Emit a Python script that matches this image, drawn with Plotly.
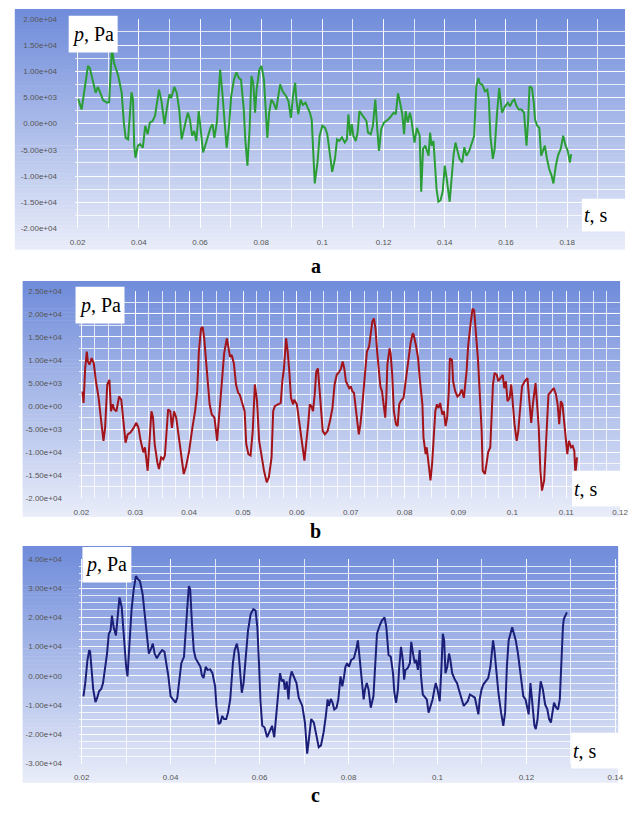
import plotly.graph_objects as go

# ---------------- data ----------------
t_a = [0.0202, 0.0213, 0.0234, 0.0240, 0.0259, 0.0266, 0.0274, 0.0283, 0.0296, 0.0303,
       0.0312, 0.0319, 0.0333, 0.0344, 0.0351, 0.0357, 0.0365, 0.0376, 0.0381, 0.0385,
       0.0389, 0.0397, 0.0404, 0.0413, 0.0421, 0.0429, 0.0436, 0.0445, 0.0453, 0.0466,
       0.0474, 0.0484, 0.0493, 0.0500, 0.0506, 0.0516, 0.0524, 0.0532, 0.0540, 0.0549,
       0.0560, 0.0567, 0.0574, 0.0581, 0.0588, 0.0596, 0.0602, 0.0610, 0.0617, 0.0626,
       0.0634, 0.0641, 0.0647, 0.0655, 0.0666, 0.0673, 0.0687, 0.0695, 0.0702, 0.0711,
       0.0719, 0.0727, 0.0734, 0.0743, 0.0748, 0.0755, 0.0762, 0.0768, 0.0774, 0.0780,
       0.0785, 0.0794, 0.0801, 0.0809, 0.0815, 0.0820, 0.0826, 0.0833, 0.0840, 0.0849,
       0.0862, 0.0870, 0.0881, 0.0889, 0.0897, 0.0904, 0.0911, 0.0915, 0.0921, 0.0929,
       0.0936, 0.0945, 0.0952, 0.0959, 0.0965, 0.0970, 0.0975, 0.0984, 0.0991, 0.1000,
       0.1009, 0.1016, 0.1023, 0.1032, 0.1041, 0.1048, 0.1055, 0.1064, 0.1073, 0.1080,
       0.1085, 0.1091, 0.1096, 0.1101, 0.1109, 0.1115, 0.1121, 0.1128, 0.1135, 0.1144,
       0.1149, 0.1158, 0.1165, 0.1173, 0.1179, 0.1185, 0.1192, 0.1201, 0.1208, 0.1215,
       0.1224, 0.1233, 0.1240, 0.1247, 0.1254, 0.1261, 0.1267, 0.1272, 0.1279, 0.1286,
       0.1290, 0.1297, 0.1301, 0.1309, 0.1318, 0.1323, 0.1329, 0.1336, 0.1341, 0.1347,
       0.1352, 0.1357, 0.1363, 0.1368, 0.1373, 0.1379, 0.1386, 0.1393, 0.1400, 0.1405,
       0.1411, 0.1416, 0.1423, 0.1429, 0.1435, 0.1443, 0.1448, 0.1457, 0.1464, 0.1471,
       0.1480, 0.1489, 0.1496, 0.1503, 0.1510, 0.1514, 0.1523, 0.1531, 0.1539, 0.1544,
       0.1549, 0.1557, 0.1563, 0.1571, 0.1578, 0.1587, 0.1592, 0.1597, 0.1606, 0.1613,
       0.1621, 0.1627, 0.1635, 0.1642, 0.1651, 0.1659, 0.1667, 0.1672, 0.1677, 0.1685,
       0.1691, 0.1695, 0.1702, 0.1709, 0.1715, 0.1723, 0.1727, 0.1734, 0.1741, 0.1749,
       0.1755, 0.1763, 0.1770, 0.1779, 0.1787, 0.1795, 0.1802, 0.1809, 0.1813]
p_a = [4700, 2700, 11000, 10600, 5900, 7000, 5900, 4500, 4000, 4100,
       14400, 11600, 9100, 5900, 200, -2700, -3000, 6000, 4600, -4200,
       -6500, -4200, -3900, -4600, -400, -2000, 200, 500, 1500, 6500,
       4300, -100, 3400, 5600, 4900, 7000, 5900, 2700, -3000, -400,
       2100, 800, -2300, -1400, -3300, 2400, -800, -5500, -4200, -2300,
       -800, -100, -2700, 200, 10300, 5900, -4600, -400, 5300, 8400,
       9800, 8700, 8400, 2700, -3000, -8000, -1100, 9100, 7800, 2100,
       6500, 10300, 11000, 8400, 2100, -2700, 2100, 4600, 4000, 2700,
       7500, 6200, 5300, 4300, 1100, 5300, 7800, 4600, 1800, 4600,
       3600, 4000, 3000, 2100, 800, -4800, -11400, -7400, -2300, -400,
       -800, -2000, -4800, -9200, -6700, -3000, -3300, -2600, -3600, -3000,
       1800, -2300, -100, -2300, -3300, -1700, 2400, 1800, 1100, 500,
       -1700, -2000, -400, 4600, -800, -5200, -1100, 200, 500, 800,
       1400, 2100, 1800, 5800, 4000, 1800, -2000, 2400, 200, 2100,
       1100, -1700, -3600, -800, -2300, -13000, -4800, -4200, -5200, -6100,
       -1700, -4200, -3300, -8000, -12400, -14900, -14600, -13000, -8000, -9900,
       -12400, -14900, -9900, -5800, -3600, -5500, -6700, -7400, -4500, -6100,
       -5200, -3600, -2300, 7100, 8700, 7700, 7400, 6200, 6500, 4600,
       -2300, -6700, -4800, 2100, 6800, 2100, 2700, 3300, 4000, 3300,
       4300, 4600, 3300, 2700, 2700, 2100, -4200, 200, 7100, 6800,
       4000, 800, -400, -800, -6100, -4800, -4200, -6700, -8600, -9900,
       -11400, -8000, -6100, -4800, -2300, -4200, -5200, -7400, -5800]

t_b = [0.0202, 0.0204, 0.0207, 0.0210, 0.0212, 0.0215, 0.0219, 0.0223, 0.0227, 0.0232,
       0.0236, 0.0241, 0.0244, 0.0248, 0.0252, 0.0255, 0.0258, 0.0261, 0.0265, 0.0270,
       0.0274, 0.0278, 0.0282, 0.0286, 0.0291, 0.0297, 0.0302, 0.0306, 0.0310, 0.0315,
       0.0318, 0.0323, 0.0326, 0.0330, 0.0333, 0.0336, 0.0341, 0.0344, 0.0348, 0.0352,
       0.0355, 0.0358, 0.0361, 0.0365, 0.0368, 0.0372, 0.0376, 0.0381, 0.0385, 0.0390,
       0.0394, 0.0400, 0.0406, 0.0411, 0.0415, 0.0418, 0.0422, 0.0425, 0.0428, 0.0433,
       0.0438, 0.0442, 0.0447, 0.0452, 0.0456, 0.0461, 0.0465, 0.0470, 0.0473, 0.0476,
       0.0479, 0.0483, 0.0487, 0.0491, 0.0494, 0.0498, 0.0503, 0.0506, 0.0510, 0.0514,
       0.0518, 0.0522, 0.0526, 0.0530, 0.0535, 0.0539, 0.0544, 0.0548, 0.0553, 0.0556,
       0.0559, 0.0564, 0.0570, 0.0573, 0.0576, 0.0580, 0.0583, 0.0586, 0.0589, 0.0593,
       0.0595, 0.0600, 0.0605, 0.0609, 0.0614, 0.0621, 0.0624, 0.0627, 0.0630, 0.0633,
       0.0636, 0.0639, 0.0642, 0.0645, 0.0648, 0.0652, 0.0657, 0.0662, 0.0666, 0.0670,
       0.0674, 0.0679, 0.0682, 0.0685, 0.0688, 0.0691, 0.0694, 0.0697, 0.0700, 0.0703,
       0.0706, 0.0709, 0.0712, 0.0715, 0.0718, 0.0721, 0.0724, 0.0727, 0.0730, 0.0734,
       0.0737, 0.0740, 0.0743, 0.0746, 0.0749, 0.0752, 0.0755, 0.0758, 0.0761, 0.0764,
       0.0766, 0.0768, 0.0772, 0.0774, 0.0777, 0.0780, 0.0784, 0.0787, 0.0790, 0.0793,
       0.0798, 0.0802, 0.0807, 0.0811, 0.0815, 0.0817, 0.0821, 0.0825, 0.0828, 0.0833,
       0.0835, 0.0839, 0.0841, 0.0845, 0.0848, 0.0851, 0.0854, 0.0857, 0.0860, 0.0863,
       0.0866, 0.0870, 0.0873, 0.0876, 0.0879, 0.0882, 0.0884, 0.0888, 0.0890, 0.0894,
       0.0898, 0.0902, 0.0906, 0.0910, 0.0915, 0.0918, 0.0923, 0.0926, 0.0929, 0.0932,
       0.0936, 0.0939, 0.0943, 0.0945, 0.0949, 0.0952, 0.0955, 0.0959, 0.0962, 0.0964,
       0.0967, 0.0971, 0.0974, 0.0979, 0.0982, 0.0985, 0.0988, 0.0991, 0.0995, 0.0998,
       0.1000, 0.1004, 0.1008, 0.1011, 0.1014, 0.1018, 0.1023, 0.1028, 0.1031, 0.1035,
       0.1038, 0.1043, 0.1046, 0.1049, 0.1052, 0.1055, 0.1059, 0.1062, 0.1065, 0.1067,
       0.1072, 0.1077, 0.1081, 0.1084, 0.1087, 0.1090, 0.1093, 0.1096, 0.1099, 0.1102,
       0.1105, 0.1109, 0.1112, 0.1115, 0.1117, 0.1120]
p_b = [3200, 700, 8200, 11800, 9700, 9000, 10400, 9300, 5400, 1800,
       -2500, -7500, -4700, 4700, 5700, -1100, 400, -700, -1100, 2100,
       1400, -3200, -7900, -6100, -5700, -4700, -3600, -4700, -7500, -10000,
       -8900, -14000, -8200, -1100, -2500, -8200, -12200, -13600, -11100, -11500,
       -10700, -4700, -700, -1100, -4700, -1100, -2500, -6800, -10400, -14700,
       -13200, -9700, -4700, -1100, 3200, 11800, 16800, 17200, 14700, 7500,
       400, -1800, -2500, -7500, -1100, 6100, 11500, 14700, 12900, 10700,
       11100, 9300, 4700, 2900, 2500, 1100, -1100, -8200, -10400, -10700,
       -5400, 4700, 1100, -7500, -11100, -14000, -16500, -15400, -11100, -1100,
       0, 400, 700, 5400, 8200, 14700, 11800, 7500, 1800, 400,
       1400, 400, -3900, -8200, -11800, -3900, 400, 0, -1100, 2500,
       7500, 8200, 3900, -1100, -5400, -6100, -5400, -2900, -400, 4700,
       6800, 7500, 8200, 9700, 8200, 5400, 4700, 3900, 4300, 3200,
       2900, 400, -3200, -6100, -3900, -400, 3900, 9000, 11800, 12900,
       15400, 18300, 19000, 16800, 11800, 7500, 4300, 3200, -400, -2500,
       1800, 9000, 12500, 11500, 6800, -1100, -3900, -4300, 400, 1100,
       1800, 5400, 11100, 13600, 15800, 15400, 13200, 10400, 6100, 400,
       -6800, -10400, -8900, -12500, -16100, -12500, -5400, -1100, 400, -400,
       700, -1800, -1100, -4300, -2500, 3200, 10400, 10000, 5400, 3200,
       2100, 2500, 3600, 1800, 7500, 13200, 18300, 21100, 20800, 16800,
       10400, 3900, -5400, -14000, -14700, -12500, -10000, -8900, -1800, 4700,
       7200, 6800, 5400, 6400, 6800, 3900, 5400, 1100, 1800, 4700,
       1100, -3900, -7500, -5400, -1100, 4300, 5400, 6100, 1800, -3600,
       400, 5000, 400, -4700, -14000, -18300, -16100, -8200, -2500, 2500,
       3200, 3900, 2500, 400, -3900, 1100, 400, -3200, -8200, -10400,
       -7500, -8900, -8600, -9700, -14700, -11100]

t_c = [0.0204, 0.0208, 0.0213, 0.0217, 0.0219, 0.0222, 0.0226, 0.0231, 0.0235, 0.0239,
       0.0244, 0.0248, 0.0254, 0.0257, 0.0261, 0.0265, 0.0268, 0.0272, 0.0277, 0.0281,
       0.0285, 0.0290, 0.0295, 0.0300, 0.0303, 0.0307, 0.0312, 0.0317, 0.0322, 0.0327,
       0.0331, 0.0337, 0.0342, 0.0347, 0.0351, 0.0356, 0.0360, 0.0364, 0.0369, 0.0375,
       0.0381, 0.0386, 0.0389, 0.0395, 0.0400, 0.0406, 0.0411, 0.0415, 0.0420, 0.0424,
       0.0430, 0.0433, 0.0437, 0.0441, 0.0444, 0.0448, 0.0452, 0.0456, 0.0461, 0.0467,
       0.0470, 0.0474, 0.0479, 0.0483, 0.0489, 0.0494, 0.0500, 0.0503, 0.0508, 0.0512,
       0.0516, 0.0520, 0.0525, 0.0529, 0.0534, 0.0540, 0.0544, 0.0549, 0.0553, 0.0557,
       0.0560, 0.0564, 0.0569, 0.0574, 0.0580, 0.0586, 0.0591, 0.0595, 0.0599, 0.0602,
       0.0606, 0.0611, 0.0617, 0.0623, 0.0628, 0.0633, 0.0638, 0.0643, 0.0646, 0.0650,
       0.0654, 0.0657, 0.0661, 0.0665, 0.0668, 0.0672, 0.0677, 0.0683, 0.0688, 0.0696,
       0.0702, 0.0707, 0.0711, 0.0716, 0.0722, 0.0727, 0.0733, 0.0738, 0.0744, 0.0749,
       0.0753, 0.0756, 0.0760, 0.0764, 0.0768, 0.0773, 0.0777, 0.0782, 0.0786, 0.0790,
       0.0793, 0.0797, 0.0801, 0.0806, 0.0812, 0.0817, 0.0821, 0.0824, 0.0829, 0.0834,
       0.0837, 0.0841, 0.0845, 0.0850, 0.0856, 0.0861, 0.0864, 0.0870, 0.0875, 0.0881,
       0.0885, 0.0890, 0.0895, 0.0900, 0.0903, 0.0907, 0.0911, 0.0914, 0.0918, 0.0922,
       0.0925, 0.0928, 0.0933, 0.0938, 0.0941, 0.0945, 0.0949, 0.0952, 0.0956, 0.0960,
       0.0963, 0.0967, 0.0971, 0.0976, 0.0980, 0.0985, 0.0989, 0.0993, 0.0996, 0.1000,
       0.1005, 0.1009, 0.1012, 0.1015, 0.1018, 0.1022, 0.1026, 0.1029, 0.1033, 0.1039,
       0.1044, 0.1048, 0.1053, 0.1059, 0.1062, 0.1068, 0.1073, 0.1078, 0.1084, 0.1088,
       0.1092, 0.1095, 0.1099, 0.1103, 0.1108, 0.1114, 0.1119, 0.1125, 0.1128, 0.1133,
       0.1137, 0.1143, 0.1148, 0.1152, 0.1156, 0.1160, 0.1165, 0.1168, 0.1172, 0.1176,
       0.1181, 0.1187, 0.1193, 0.1198, 0.1201, 0.1205, 0.1209, 0.1212, 0.1218, 0.1221,
       0.1225, 0.1229, 0.1232, 0.1237, 0.1242, 0.1247, 0.1251, 0.1255, 0.1259, 0.1262,
       0.1267, 0.1271, 0.1275, 0.1278, 0.1282, 0.1284, 0.1288, 0.1291]
p_c = [-7000, -2500, 5400, 8800, 8200, 3100, -4700, -9000, -7500, -5300,
       -4500, -2500, 4300, 7600, 14400, 15500, 20600, 16600, 13800, 21100,
       26800, 23400, 12100, 3100, -200, 9900, 22300, 29600, 34100, 32900,
       32400, 27900, 20000, 12100, 7600, 9300, 11000, 7600, 6000, 7600,
       8800, 8200, 5400, -200, -7000, -8300, -9200, -7500, -200, 4300,
       6500, 12100, 22300, 30700, 29600, 17800, 8800, 6000, 4800, 3100,
       300, -800, 3100, 2000, 2200, 900, -3600, -10300, -16500, -16000,
       -13700, -14800, -14800, -12600, -8100, 4300, 8800, 11000, 7600, -200,
       -5800, -2500, 5400, 15500, 21100, 22800, 22300, 16600, 3100, -8700,
       -17100, -17600, -21000, -18800, -17100, -21000, -12600, -3600, 900, -1900,
       -1300, -4700, -1900, -8100, -1300, 1500, -200, -2500, -7500, -10300,
       -16000, -26600, -21600, -14800, -16000, -20500, -24400, -23800, -19300, -13700,
       -8100, -10300, -7900, -9200, -11500, -10900, -8100, -200, -3600, -200,
       3100, 4300, 3100, 5400, 6000, 8800, 12100, 7600, -200, -8100,
       -4700, -2500, -4700, -10900, -7000, 5400, 14400, 17200, 18900, 20000,
       16600, 7100, 6500, 900, -5800, -9200, -4700, 3100, 9900, 5400,
       -1300, 2000, 2600, 4300, 11600, 7600, 4300, 5400, 2000, 8800,
       -200, -6400, -7000, -8100, -12600, -9800, -8100, -4700, -2500, -4700,
       -8700, 3100, 14400, 12100, 900, 3100, 7600, 5400, 900, -1300,
       -2500, -4700, -7500, -10300, -9800, -8700, -6400, -7000, -7500, -10300,
       -13200, -8100, -4700, -3000, -1900, -800, 3100, 12100, 8800, 900,
       -5800, -12600, -17100, -12600, 3100, 12100, 15500, 16600, 14400, 12100,
       7600, 900, -7000, -8100, -10900, -13200, -2500, -8100, -17100, -18200,
       -14800, -7000, -1900, -4700, -9800, -11500, -14800, -16000, -12600, -9200,
       -10900, -11500, -8100, 5400, 16600, 19400, 20600, 21700]

xticks_a = [0.02, 0.04, 0.06, 0.08, 0.1, 0.12, 0.14, 0.16, 0.18, 0.2]
xticks_b = [0.02, 0.03, 0.04, 0.05, 0.06, 0.07, 0.08, 0.09, 0.1, 0.11, 0.12]
xticks_c = [0.02, 0.04, 0.06, 0.08, 0.1, 0.12, 0.14]
yticks_a = [-20000, -15000, -10000, -5000, 0, 5000, 10000, 15000, 20000]
yticks_b = [-20000, -15000, -10000, -5000, 0, 5000, 10000, 15000, 20000, 25000]
yticks_c = [-30000, -20000, -10000, 0, 10000, 20000, 30000, 40000]
panel_letters = ["a", "b", "c"]
y_title = "<i>p</i>, Pa"
x_title = "<i>t</i>, s"

# ---------------- layout helpers ----------------
W, H = 632, 816
def fx(px):
    return px / W
def fy(py):
    return 1 - py / H

def xlab(v):
    return f"{v:.2f}".rstrip("0")

def ylab(v):
    return f"{v:.2e}"

TICKFONT = dict(family="Liberation Sans, Arial, sans-serif", size=8, color="#555555")
GRID = "rgba(255,255,255,0.78)"

fig = go.Figure()

fig.add_trace(go.Scatter(x=t_a, y=p_a, mode="lines", xaxis="x", yaxis="y",
                         line=dict(color="#2a9e35", width=2), showlegend=False))
fig.add_trace(go.Scatter(x=t_b, y=p_b, mode="lines", xaxis="x2", yaxis="y2",
                         line=dict(color="#a3141a", width=2), showlegend=False))
fig.add_trace(go.Scatter(x=t_c, y=p_c, mode="lines", xaxis="x3", yaxis="y3",
                         line=dict(color="#1b1f78", width=2), showlegend=False))

def xaxis(domain, rng, ticks, minor_dt, anchor):
    return dict(domain=domain, range=rng, anchor=anchor,
                tickmode="array", tickvals=ticks, ticktext=[xlab(v) for v in ticks],
                tickfont=TICKFONT, ticks="outside", ticklen=6, tickcolor="rgba(0,0,0,0)",
                showgrid=True, gridcolor=GRID, gridwidth=1, zeroline=False, showline=False,
                minor=dict(dtick=minor_dt, tick0=0, showgrid=True, gridcolor=GRID, gridwidth=1, ticks=""))

def yaxis(domain, rng, ticks, minor_dt, anchor):
    return dict(domain=domain, range=rng, anchor=anchor,
                tickmode="array", tickvals=ticks, ticktext=[ylab(v) for v in ticks],
                tickfont=TICKFONT, ticks="outside", ticklen=15, tickcolor="rgba(0,0,0,0)",
                showgrid=True, gridcolor=GRID, gridwidth=1, zeroline=False, showline=False,
                minor=dict(dtick=minor_dt, tick0=0, showgrid=True, gridcolor=GRID, gridwidth=1, ticks=""))

layout = dict(
    width=W, height=H, margin=dict(l=0, r=0, t=0, b=0),
    paper_bgcolor="white", plot_bgcolor="rgba(0,0,0,0)", showlegend=False,
    hovermode=False,
    xaxis=xaxis([fx(70), 1.0], [0.0190, 0.1989], xticks_a, 0.01, "y"),
    yaxis=yaxis([fy(227), fy(15)], [-20000, 20000], yticks_a, 2500, "x"),
    xaxis2=xaxis([fx(75), fx(627)], [0.01964, 0.12], xticks_b, 0.0025, "y2"),
    yaxis2=yaxis([fy(500), fy(290)], [-20000, 25000], yticks_b, 2500, "x2"),
    xaxis3=xaxis([fx(75), fx(624)], [0.0195, 0.1404], xticks_c, 0.01, "y3"),
    yaxis3=yaxis([fy(768), fy(561)], [-30000, 40000], yticks_c, 2500, "x3"),
)
fig.update_layout(**layout)

# gradient backgrounds (vertical)
boxes = [(9, 632, 5, 248), (17, 627, 280, 518), (17, 625, 548, 787)]
top_col = (112, 140, 218)
bot_col = (232, 236, 249)
shapes = []
N = 60
for (x0, x1, y0, y1) in boxes:
    hgt = (y1 - y0) / N
    for i in range(N):
        f = i / (N - 1)
        c = tuple(int(round(top_col[k] + (bot_col[k] - top_col[k]) * f)) for k in range(3))
        shapes.append(dict(type="rect", xref="paper", yref="paper", layer="below",
                           x0=fx(x0), x1=fx(x1), y0=fy(y0 + (i + 1) * hgt + 0.5), y1=fy(y0 + i * hgt),
                           fillcolor=f"rgb{c}", line=dict(width=0)))

# white label boxes
pboxes = [(64, 114, 12, 49), (71, 121, 286, 323), (78, 128, 549, 585)]
tboxes = [(588, 632, 197, 230), (578, 632, 472, 508), (577, 632, 737, 773)]
for (x0, x1, y0, y1) in pboxes + tboxes:
    shapes.append(dict(type="rect", xref="paper", yref="paper", layer="above",
                       x0=fx(x0), x1=fx(x1), y0=fy(y1), y1=fy(y0),
                       fillcolor="white", line=dict(width=0)))
fig.update_layout(shapes=shapes)

ann = []
LBLFONT = dict(family="Liberation Serif, Times New Roman, serif", size=20, color="black")
for (x0, x1, y0, y1) in pboxes:
    ann.append(dict(xref="paper", yref="paper", x=fx(x0 + 1), y=fy((y0 + y1) / 2), xanchor="left",
                    yanchor="middle", text=y_title, showarrow=False, font=LBLFONT))
for (x0, x1, y0, y1) in tboxes:
    ann.append(dict(xref="paper", yref="paper", x=fx(x0), y=fy((y0 + y1) / 2), xanchor="left",
                    yanchor="middle", text=x_title, showarrow=False, font=LBLFONT))
for letter, yy in zip(panel_letters, [265, 533, 800]):
    ann.append(dict(xref="paper", yref="paper", x=fx(316), y=fy(yy), xanchor="center",
                    yanchor="middle", text=f"<b>{letter}</b>", showarrow=False,
                    font=dict(family="Liberation Serif, Times New Roman, serif", size=20, color="black")))
fig.update_layout(annotations=ann)

fig.write_html("out.html", config={"displayModeBar": False},
               post_script="document.body.style.margin='0';document.body.style.padding='0';")
